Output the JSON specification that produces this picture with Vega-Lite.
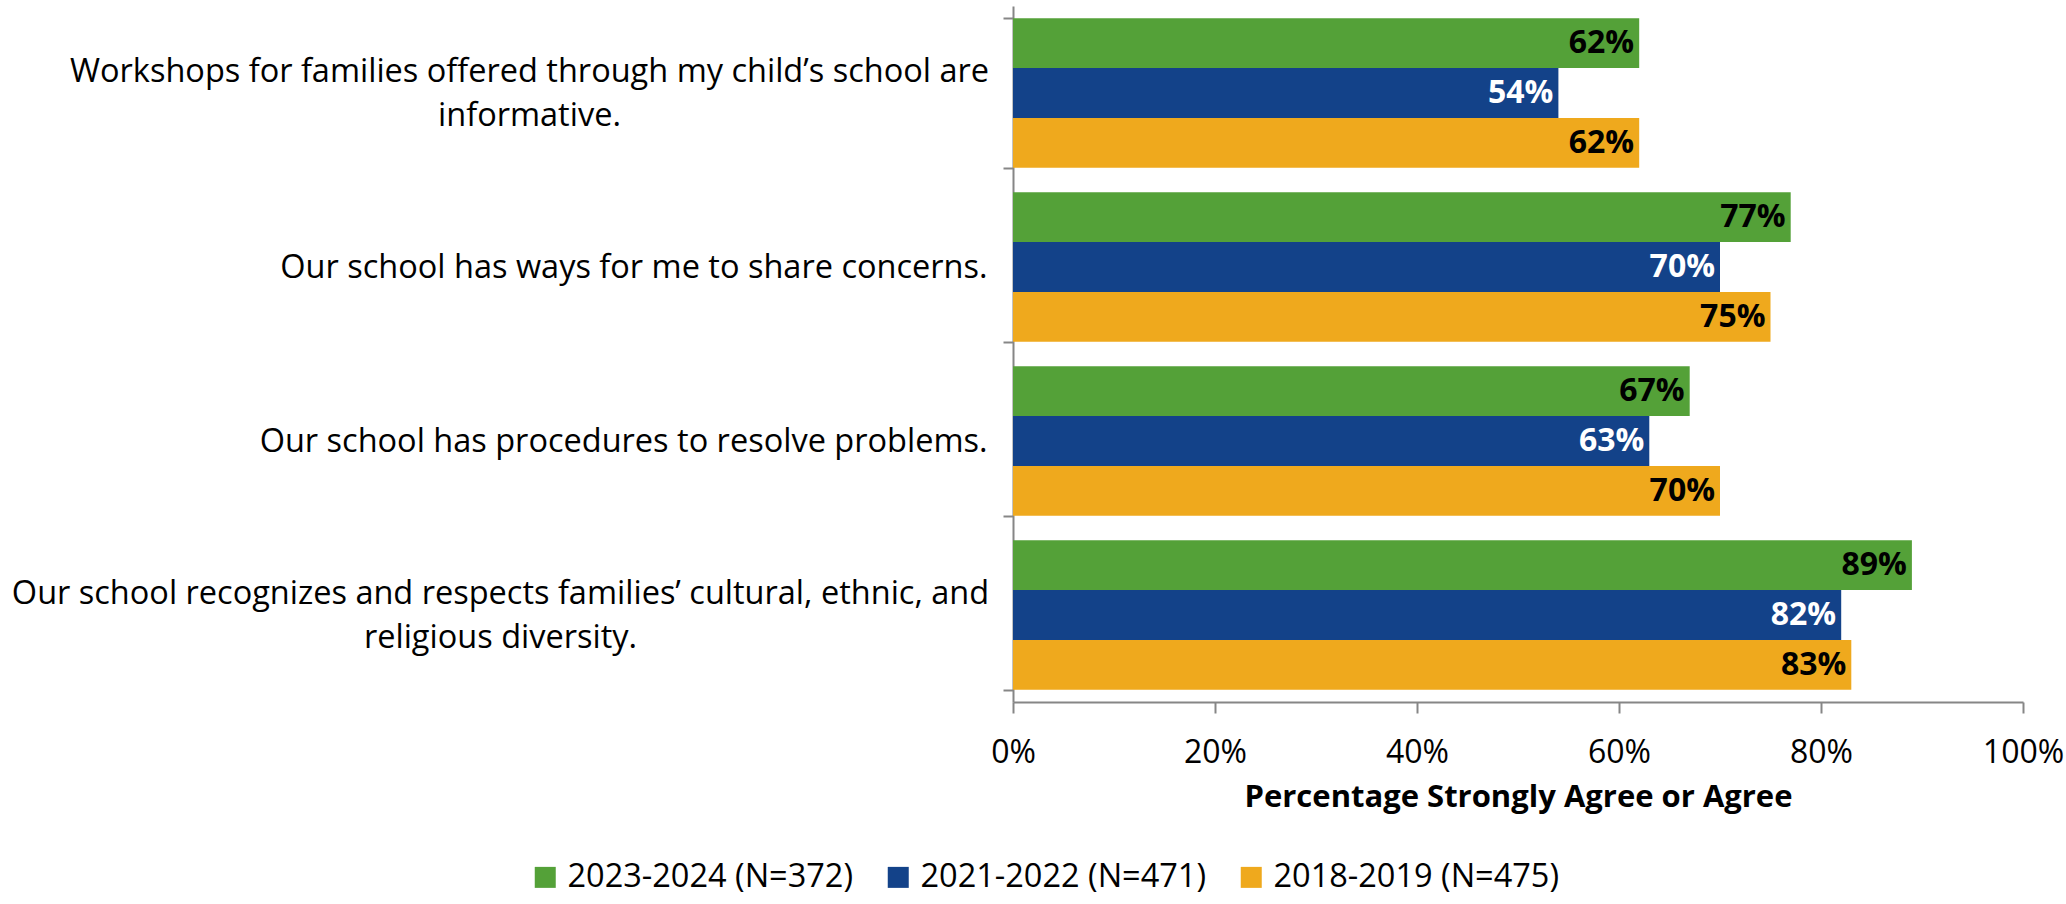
{
  "$schema": "https://vega.github.io/schema/vega-lite/v6.json",
  "width": 1010,
  "height": 696,
  "autosize": {"type": "none"},
  "padding": {"left": 1013, "top": 6, "right": 43, "bottom": 202},
  "background": "white",
  "config": {"view": {"stroke": null}, "font": "Open Sans"},
  "data": {
    "values": [
      {"question": "Workshops for families offered through my child’s school are informative.", "year": "2023-2024 (N=372)", "pct": 0.62},
      {"question": "Workshops for families offered through my child’s school are informative.", "year": "2021-2022 (N=471)", "pct": 0.54},
      {"question": "Workshops for families offered through my child’s school are informative.", "year": "2018-2019 (N=475)", "pct": 0.62},
      {"question": "Our school has ways for me to share concerns.", "year": "2023-2024 (N=372)", "pct": 0.77},
      {"question": "Our school has ways for me to share concerns.", "year": "2021-2022 (N=471)", "pct": 0.70},
      {"question": "Our school has ways for me to share concerns.", "year": "2018-2019 (N=475)", "pct": 0.75},
      {"question": "Our school has procedures to resolve problems.", "year": "2023-2024 (N=372)", "pct": 0.67},
      {"question": "Our school has procedures to resolve problems.", "year": "2021-2022 (N=471)", "pct": 0.63},
      {"question": "Our school has procedures to resolve problems.", "year": "2018-2019 (N=475)", "pct": 0.70},
      {"question": "Our school recognizes and respects families’ cultural, ethnic, and religious diversity.", "year": "2023-2024 (N=372)", "pct": 0.89},
      {"question": "Our school recognizes and respects families’ cultural, ethnic, and religious diversity.", "year": "2021-2022 (N=471)", "pct": 0.82},
      {"question": "Our school recognizes and respects families’ cultural, ethnic, and religious diversity.", "year": "2018-2019 (N=475)", "pct": 0.83}
    ]
  },
  "encoding": {
    "y": {
      "field": "question",
      "type": "nominal",
      "sort": null,
      "scale": {"paddingInner": 0.14, "paddingOuter": 0.07},
      "axis": {
        "title": null,
        "domainColor": "#868686",
        "domainWidth": 2,
        "tickColor": "#868686",
        "tickWidth": 2,
        "tickSize": 10,
        "tickBand": "extent",
        "labelFontSize": 32.5,
        "labelColor": "black",
        "labelLimit": 1200,
        "labelLineHeight": 44,
        "labelBaseline": "middle",
        "labelAlign": {"condition": {"test": "indexof(datum.value + '', 'Workshops') == 0 || indexof(datum.value + '', 'recognizes') > 0", "value": "center"}, "value": "right"},
        "labelPadding": {"condition": [{"test": "indexof(datum.value + '', 'Workshops') == 0", "value": 474}, {"test": "indexof(datum.value + '', 'recognizes') > 0", "value": 503}], "value": 16},
        "labelOffset": {"condition": {"test": "indexof(datum.value + '', 'Workshops') == 0 || indexof(datum.value + '', 'recognizes') > 0", "value": -22}, "value": 0},
        "labelExpr": "indexof(datum.value + '', 'Workshops') == 0 ? ['Workshops for families offered through my child’s school are', 'informative.'] : indexof(datum.value + '', 'recognizes') > 0 ? ['Our school recognizes and respects families’ cultural, ethnic, and', 'religious diversity.'] : datum.label"
      }
    },
    "yOffset": {"field": "year", "type": "nominal", "sort": null, "scale": {"paddingInner": 0, "paddingOuter": 0}},
    "x": {
      "field": "pct",
      "type": "quantitative",
      "scale": {"domain": [0, 1]},
      "axis": {
        "values": [0, 0.2, 0.4, 0.6, 0.8, 1],
        "format": ".0%",
        "grid": false,
        "domainColor": "#868686",
        "domainWidth": 2,
        "tickColor": "#868686",
        "tickWidth": 2,
        "tickSize": 11,
        "labelFontSize": 32,
        "labelColor": "black",
        "labelPadding": 24,
        "labelFlush": false,
        "title": "Percentage Strongly Agree or Agree",
        "titleFontSize": 31,
        "titleFontWeight": "bold",
        "titleColor": "black",
        "titlePadding": 14
      }
    }
  },
  "layer": [
    {
      "mark": {"type": "bar"},
      "encoding": {
        "color": {
          "field": "year",
          "type": "nominal",
          "sort": null,
          "scale": {"domain": ["2023-2024 (N=372)", "2021-2022 (N=471)", "2018-2019 (N=475)"], "range": ["#54A138", "#134289", "#EFA91D"]},
          "legend": {
            "orient": "none",
            "legendX": -484,
            "legendY": 855,
            "direction": "horizontal",
            "title": null,
            "padding": 0,
            "symbolType": "square",
            "symbolSize": 441,
            "labelFontSize": 32.5,
            "labelColor": "black",
            "labelLimit": 500,
            "labelOffset": 6,
            "columnPadding": 28
          }
        }
      }
    },
    {
      "mark": {"type": "text", "align": "right", "baseline": "middle", "dx": -5, "fontWeight": "bold", "fontSize": 32},
      "encoding": {
        "text": {"field": "pct", "type": "quantitative", "format": ".0%"},
        "color": {"condition": {"test": "datum.year === '2021-2022 (N=471)'", "value": "white"}, "value": "black"}
      }
    }
  ]
}
